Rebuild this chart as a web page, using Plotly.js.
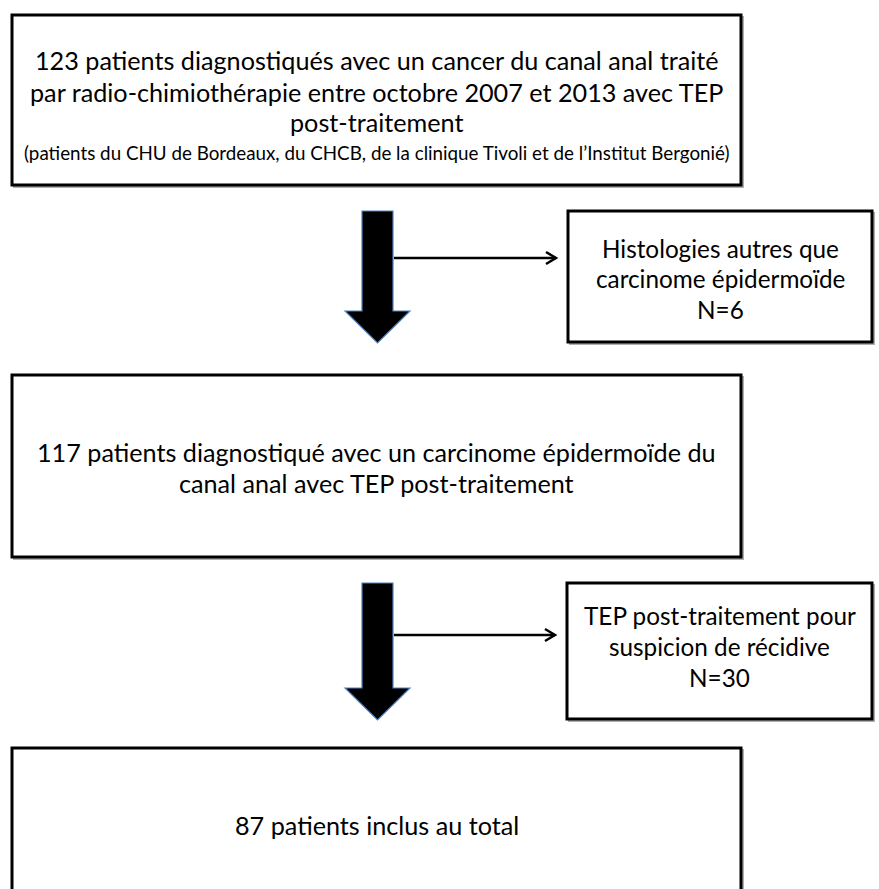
<!DOCTYPE html>
<html>
<head>
<meta charset="utf-8">
<script src="https://cdn.plot.ly/plotly-3.0.1.min.js"></script>
<style>html,body{margin:0;padding:0;background:#fff;}#chart{width:879px;height:889px;}</style>
</head>
<body>
<div id="chart"></div>
<script>
// Flow data
const stepCounts = [123, 117, 87];
const exclusionCounts = [6, 30];
const stepLines = [
  ["123 patients diagnostiqués avec un cancer du canal anal traité",
   "par radio-chimiothérapie entre octobre 2007 et 2013 avec TEP",
   "post-traitement"],
  ["117 patients diagnostiqué avec un carcinome épidermoïde du",
   "canal anal avec TEP post-traitement"],
  ["87 patients inclus au total"]
];
const stepNotes = ["(patients du CHU de Bordeaux, du CHCB, de la clinique Tivoli et de l’Institut Bergonié)", "", ""];
const exclusionLines = [
  ["Histologies autres que", "carcinome épidermoïde", "N=6"],
  ["TEP post-traitement pour", "suspicion de récidive", "N=30"]
];

// Layout geometry (pixels, y downward)
const mainBoxes = [
  {x0: 12, x1: 741, y0: 15, y1: 185, lineY: [60, 92, 122], noteY: 152},
  {x0: 12, x1: 741, y0: 375, y1: 557, lineY: [452, 483]},
  {x0: 12, x1: 741, y0: 748, y1: 905, lineY: [825]}
];
const exBoxes = [
  {x0: 568, x1: 872, y0: 211, y1: 342, lineY: [248, 278, 309]},
  {x0: 567, x1: 872, y0: 583, y1: 719, lineY: [615, 646, 677]}
];
const bigArrows = [
  {cx: 377.5, y0: 211, yh: 311, tip: 343},
  {cx: 377.5, y0: 583, yh: 688, tip: 720}
];
const sideArrowsY = [258, 635];

const FONT = "Lato, 'Open Sans', sans-serif";
const shapes = [];
const annotations = [];

function box(b) {
  shapes.push({type: 'rect', xref: 'x', yref: 'y', x0: b.x0 + 2, x1: b.x1 + 2, y0: b.y0 + 2, y1: b.y1 + 2,
    line: {color: 'rgba(110,110,110,0.55)', width: 2}, fillcolor: 'rgba(0,0,0,0)', layer: 'below'});
  shapes.push({type: 'rect', xref: 'x', yref: 'y', x0: b.x0, x1: b.x1, y0: b.y0, y1: b.y1,
    line: {color: '#000', width: 3}, fillcolor: '#fff'});
}
mainBoxes.forEach(box);
exBoxes.forEach(box);

bigArrows.forEach(a => {
  const sw = 15.5, hw = 32.5;
  const p = `M ${a.cx - sw} ${a.y0} L ${a.cx + sw} ${a.y0} L ${a.cx + sw} ${a.yh} L ${a.cx + hw} ${a.yh} L ${a.cx} ${a.tip} L ${a.cx - hw} ${a.yh} L ${a.cx - sw} ${a.yh} Z`;
  shapes.push({type: 'path', xref: 'x', yref: 'y', path: p, fillcolor: '#000', line: {color: '#4f81bd', width: 1.2}});
});

sideArrowsY.forEach((y, i) => {
  const x0 = 394, x1 = exBoxes[i].x0 - 12;
  shapes.push({type: 'line', xref: 'x', yref: 'y', x0: x0, x1: x1, y0: y, y1: y, line: {color: '#000', width: 2.5}});
  shapes.push({type: 'path', xref: 'x', yref: 'y', path: `M ${x1 - 10} ${y - 6} L ${x1} ${y} L ${x1 - 10} ${y + 6}`,
    line: {color: '#000', width: 2.5}});
});

function addLines(lines, ys, cx, size) {
  lines.forEach((t, k) => {
    annotations.push({xref: 'x', yref: 'y', x: cx, y: ys[k], text: t, showarrow: false,
      font: {family: FONT, size: size, color: '#000'}, align: 'center', yanchor: 'middle'});
  });
}
mainBoxes.forEach((b, i) => {
  const cx = (b.x0 + b.x1) / 2;
  addLines(stepLines[i], b.lineY, cx, 25.2);
  if (stepNotes[i]) {
    annotations.push({xref: 'x', yref: 'y', x: cx, y: b.noteY, text: stepNotes[i], showarrow: false,
      font: {family: FONT, size: 18.8, color: '#000'}, align: 'center', yanchor: 'middle'});
  }
});
exBoxes.forEach((b, i) => {
  addLines(exclusionLines[i], b.lineY, (b.x0 + b.x1) / 2, 24.3);
});

const layout = {
  width: 879, height: 889,
  margin: {l: 0, r: 0, t: 0, b: 0},
  paper_bgcolor: '#fff', plot_bgcolor: '#fff',
  xaxis: {range: [0, 879], visible: false, fixedrange: true},
  yaxis: {range: [889, 0], visible: false, fixedrange: true},
  showlegend: false,
  shapes: shapes,
  annotations: annotations
};
Plotly.newPlot('chart', [], layout, {staticPlot: true, displayModeBar: false});
</script>
</body>
</html>
